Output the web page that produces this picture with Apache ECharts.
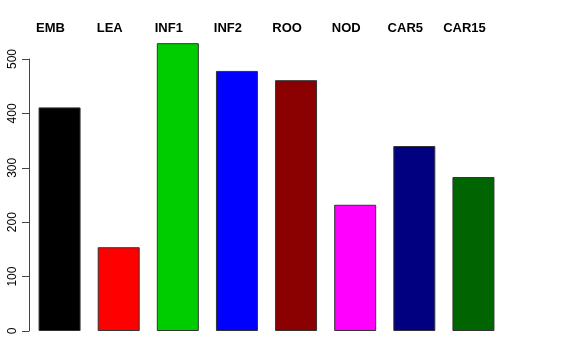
<!DOCTYPE html>
<html>
<head>
<meta charset="utf-8">
<script src="https://cdn.jsdelivr.net/npm/echarts@6/dist/echarts.min.js"></script>
<style>html,body{margin:0;padding:0;background:#fff;}#c{width:576px;height:360px;}</style>
</head>
<body>
<div id="c"></div>
<script>
const categories = ["EMB", "LEA", "INF1", "INF2", "ROO", "NOD", "CAR5", "CAR15"];
const values = [411, 154, 529, 478, 461, 232, 340, 283];
const barColors = ["#000000", "#FF0000", "#00CD00", "#0000FF", "#8B0000", "#FF00FF", "#000080", "#006400"];
const yTicks = [0, 100, 200, 300, 400, 500];

const font = "Liberation Sans, Arial, Helvetica, sans-serif";
const chart = echarts.init(document.getElementById('c'), null, {renderer: 'canvas'});
chart.setOption({
  animation: false,
  backgroundColor: '#ffffff',
  grid: [
    {left: 30, right: 73, top: 37.2, bottom: 29},
    {left: 29, right: 73, top: 59, bottom: 29},
    {left: 21, right: 82, top: 40, bottom: 29}
  ],
  xAxis: [
    {type: 'category', gridIndex: 0, data: categories, show: false},
    {type: 'value', gridIndex: 1, show: false},
    {type: 'category', gridIndex: 2, data: categories, position: 'top',
     axisLine: {show: false}, axisTick: {show: false},
     axisLabel: {color: '#000', fontWeight: 'bold', fontSize: 13, fontFamily: font, margin: 5, interval: 0}}
  ],
  yAxis: [
    {type: 'value', gridIndex: 0, min: 0, max: 540, show: false},
    {type: 'value', gridIndex: 1, min: yTicks[0], max: yTicks[yTicks.length - 1], interval: 100,
     axisLine: {show: true, lineStyle: {color: '#444', width: 1}},
     axisTick: {show: true, length: 7, lineStyle: {color: '#444', width: 1}},
     splitLine: {show: false},
     axisLabel: {rotate: 90, color: '#000', fontSize: 12, fontFamily: font, margin: 10}},
    {type: 'value', gridIndex: 2, show: false}
  ],
  series: [{
    type: 'bar',
    xAxisIndex: 0, yAxisIndex: 0,
    barWidth: 42,
    data: values.map((v, i) => ({value: v, itemStyle: {color: barColors[i]}})),
    itemStyle: {borderColor: '#333', borderWidth: 1}
  }]
});
</script>
</body>
</html>
